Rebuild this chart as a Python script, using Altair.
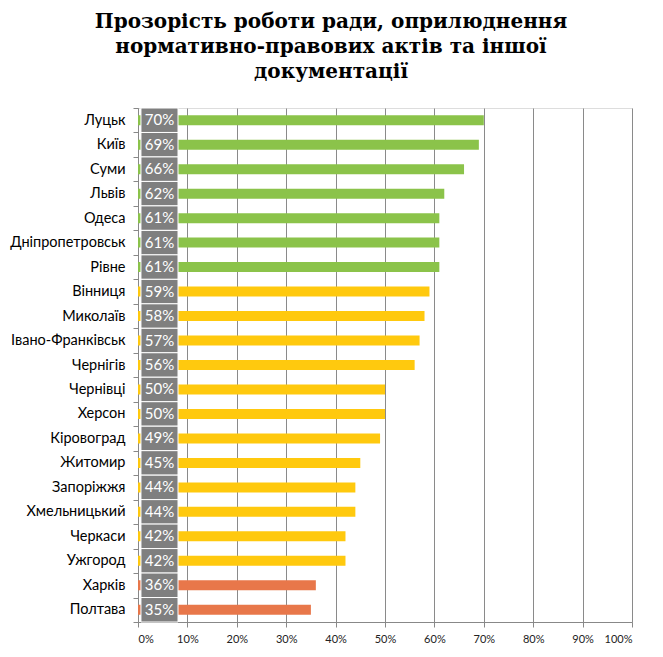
import altair as alt
import pandas as pd

cities = ["Луцьк", "Київ", "Суми", "Львів", "Одеса", "Дніпропетровськ", "Рівне",
          "Вінниця", "Миколаїв", "Івано-Франківськ", "Чернігів", "Чернівці", "Херсон",
          "Кіровоград", "Житомир", "Запоріжжя", "Хмельницький", "Черкаси", "Ужгород",
          "Харків", "Полтава"]
values = [70, 69, 66, 62, 61, 61, 61, 59, 58, 57, 56, 50, 50, 49, 45, 44, 44, 42, 42, 36, 35]
groups = ["high"] * 7 + ["mid"] * 12 + ["low"] * 2
group_names = ["high", "mid", "low"]
group_colors = ["#8BC34A", "#FFC90E", "#E8774A"]
title_lines = ["Прозорість роботи ради, оприлюднення",
               "нормативно-правових актів та іншої",
               "документації"]

df = pd.DataFrame({
    "city": cities,
    "value": [v / 100 for v in values],
    "group": groups,
    "label": [f"{v}%" for v in values],
})

y_enc = alt.Y("city:N", sort=cities, title=None,
              scale=alt.Scale(paddingInner=0, paddingOuter=0),
              axis=alt.Axis(tickBand="extent", tickSize=5, tickColor="#888888",
                            domainColor="#888888", labelFont="Lato", labelFontSize=14.5,
                            labelColor="#000000", labelPadding=8, labelLimit=200))

x_enc = alt.X("value:Q", title=None,
              scale=alt.Scale(domain=[0, 1], nice=False),
              axis=alt.Axis(format="%", values=[i / 10 for i in range(11)],
                            grid=True, gridColor="#8a8a8a", tickColor="#888888",
                            domainColor="#888888", tickSize=5, labelFont="Lato",
                            labelFontSize=11, labelColor="#222222", labelPadding=6))

bars = alt.Chart(df).mark_bar(size=10).encode(
    x=x_enc,
    y=y_enc,
    color=alt.Color("group:N", scale=alt.Scale(domain=group_names, range=group_colors), legend=None),
)

boxes = alt.Chart(df).mark_rect(color="#7F7F7F", stroke="white", strokeWidth=1).encode(
    x=alt.datum(0.006),
    x2=alt.datum(0.081),
    y=alt.Y("city:N", sort=cities),
)

texts = alt.Chart(df).mark_text(color="white", font="Lato", fontSize=15).encode(
    x=alt.datum(0.0435),
    y=alt.Y("city:N", sort=cities),
    text="label:N",
)

chart = alt.layer(bars, boxes, texts).properties(
    width=494, height=514,
    autosize=alt.AutoSizeParams(type="none"),
    padding={"left": 130, "top": 100, "right": 20, "bottom": 30},
    title=alt.TitleParams(text=title_lines, font="DejaVu Serif", fontSize=20,
                          fontWeight="bold", anchor="middle", frame="group",
                          dx=-54, offset=18, lineHeight=25, color="#000000"),
).configure_view(stroke=None).configure(background="white")

chart.save("out.html", embed_options={"renderer": "svg", "actions": False})
